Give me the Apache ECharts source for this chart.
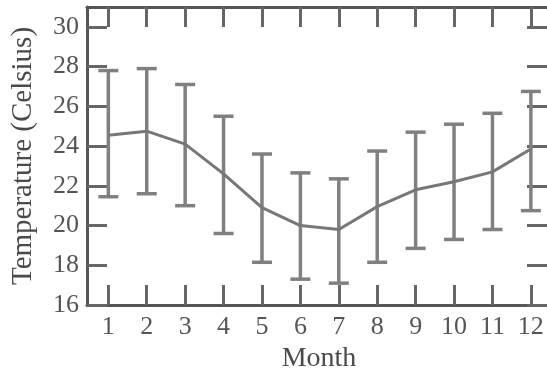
<!DOCTYPE html>
<html>
<head>
<meta charset="utf-8">
<script src="https://cdn.jsdelivr.net/npm/echarts@6/dist/echarts.min.js"></script>
<style>
html,body{margin:0;padding:0;background:#fff;}
#chart{width:547px;height:369px;}
</style>
</head>
<body>
<div id="chart"></div>
<script>
const months = [1,2,3,4,5,6,7,8,9,10,11,12];
const meanTemp = [24.55,24.75,24.1,22.6,20.9,20.0,19.8,20.95,21.8,22.2,22.7,23.85];
const upperTemp = [27.8,27.9,27.1,25.5,23.6,22.65,22.35,23.75,24.7,25.1,25.65,26.75];
const lowerTemp = [21.45,21.6,21.0,19.6,18.15,17.3,17.1,18.15,18.85,19.3,19.8,20.75];
const yTicks = [16,18,20,22,24,26,28,30];

const meanData = months.map((m,i)=>[m, meanTemp[i]]);
const errData = months.map((m,i)=>[m, lowerTemp[i], upperTemp[i]]);

const font = 'Liberation Serif';
const axisCol = '#555';
const tickStyle = {show:true, inside:true, length:20, lineStyle:{color:'#666', width:3}};

const chart = echarts.init(document.getElementById('chart'), null, {renderer:'canvas'});
chart.setOption({
  animation:false,
  backgroundColor:'#fff',
  grid:{left:87, right:0, top:7, bottom:64, containLabel:false, outerBoundsMode:'none'},
  xAxis:[{
    type:'value', min:0.445, max:12.42, position:'bottom',
    name:'Month', nameLocation:'middle', nameGap:40, nameMoveOverlap:false,
    nameTextStyle:{fontFamily:font, fontSize:28, color:'#4a4a4a', padding:[0,0,0,4]},
    axisLine:{show:true, onZero:false, lineStyle:{color:axisCol, width:3}},
    axisTick:Object.assign({customValues:months}, tickStyle),
    axisLabel:{customValues:months, margin:9, fontFamily:font, fontSize:26, color:'#555',
      formatter:v=>Number.isInteger(v)?String(v):''},
    splitLine:{show:false}
  },{
    type:'value', min:0.445, max:12.42, position:'top',
    axisLine:{show:true, onZero:false, lineStyle:{color:axisCol, width:3}},
    axisTick:Object.assign({customValues:months}, tickStyle),
    axisLabel:{show:false},
    splitLine:{show:false}
  }],
  yAxis:[{
    type:'value', min:16, max:31, position:'left',
    name:'Temperature (Celsius)', nameLocation:'middle', nameGap:49,
    nameTextStyle:{fontFamily:font, fontSize:29, color:'#4a4a4a'},
    axisLine:{show:true, onZero:false, lineStyle:{color:axisCol, width:3}},
    axisTick:Object.assign({customValues:yTicks}, tickStyle),
    axisLabel:{customValues:yTicks, margin:8, fontFamily:font, fontSize:26, color:'#555',
      formatter:v=>yTicks.includes(v)?String(v):''},
    splitLine:{show:false}
  },{
    type:'value', min:16, max:31, position:'right',
    axisLine:{show:false},
    axisTick:Object.assign({customValues:yTicks}, tickStyle),
    axisLabel:{show:false},
    splitLine:{show:false}
  }],
  series:[{
    type:'custom',
    data:errData,
    xAxisIndex:0, yAxisIndex:0,
    renderItem:function(params, api){
      const x = api.value(0);
      const lo = api.coord([x, api.value(1)]);
      const hi = api.coord([x, api.value(2)]);
      const hw = 10;
      const style = {stroke:'#808080', lineWidth:3.5, fill:null};
      return {type:'group', children:[
        {type:'line', shape:{x1:lo[0], y1:lo[1], x2:hi[0], y2:hi[1]}, style:style},
        {type:'line', shape:{x1:lo[0]-hw, y1:lo[1], x2:lo[0]+hw, y2:lo[1]}, style:style},
        {type:'line', shape:{x1:hi[0]-hw, y1:hi[1], x2:hi[0]+hw, y2:hi[1]}, style:style}
      ]};
    },
    z:2
  },{
    type:'line',
    data:meanData,
    xAxisIndex:0, yAxisIndex:0,
    showSymbol:false,
    lineStyle:{color:'#777', width:3},
    z:3
  }]
});
</script>
</body>
</html>
